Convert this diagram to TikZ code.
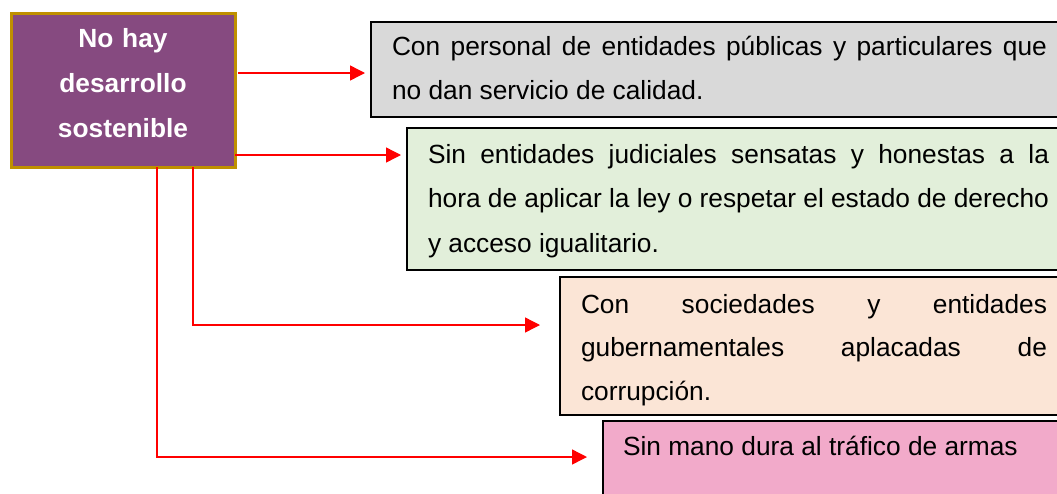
\documentclass[tikz,border=0pt]{standalone}
\usepackage{fontspec}
\setmainfont{Liberation Sans}
\usetikzlibrary{arrows.meta}
\definecolor{purp}{RGB}{134,74,128}
\definecolor{goldb}{RGB}{191,144,0}
\definecolor{grayf}{RGB}{217,217,217}
\definecolor{greenf}{RGB}{226,239,218}
\definecolor{peachf}{RGB}{251,229,214}
\definecolor{pinkf}{RGB}{242,170,202}
\definecolor{redl}{RGB}{255,0,0}
\newcommand{\nohyph}{\hyphenpenalty=10000\relax\exhyphenpenalty=10000\relax}
\begin{document}
\begin{tikzpicture}[x=1pt,y=-1pt,
  box/.style={draw=black,line width=1.3pt,rectangle,inner sep=0pt,outer sep=0pt,anchor=north west},
  txt/.style={inner sep=0pt,outer sep=0pt,anchor=base west,align=justify,
    font=\fontsize{26.3}{44.5}\selectfont\nohyph},
  conn/.style={draw=redl,line width=1.4pt,-{Triangle[length=15pt,width=15pt]}}]
\useasboundingbox[fill=white] (0,0) rectangle (1057,493);
% source box
\node[draw=goldb,line width=3pt,fill=purp,rectangle,inner sep=0pt,outer sep=0pt,anchor=north west,
  minimum width=224pt,minimum height=154pt] (src) at (11,13) {};
\node[inner sep=0pt,outer sep=0pt,anchor=base,align=center,text width=224pt,text=white,
  font=\fontsize{26.3}{45}\selectfont\bfseries] (srct) at (123,47) {No hay\\desarrollo\\sostenible};
% target boxes
\node[box,fill=grayf,minimum width=720pt,minimum height=95pt] (b1) at (371,22) {};
\node[txt,text width=655pt] (t1) at (392,55)
  {Con personal de entidades públicas y particulares que\linebreak no dan servicio de calidad.};
\node[box,fill=greenf,minimum width=690pt,minimum height=142pt] (b2) at (407,128) {};
\node[txt,text width=621pt] (t2) at (428,163)
  {Sin entidades judiciales sensatas y honestas a la\linebreak hora de aplicar la ley o respetar el estado de derecho\linebreak y acceso igualitario.};
\node[box,fill=peachf,minimum width=540pt,minimum height=138pt] (b3) at (560,277) {};
\node[txt,text width=466pt,font=\fontsize{26.3}{43.5}\selectfont\nohyph] (t3) at (581,313)
  {Con sociedades y entidades\linebreak gubernamentales aplacadas de\linebreak corrupción.};
\node[box,fill=pinkf,minimum width=500pt,minimum height=100pt] (b4) at (603,421) {};
\node[txt,align=left] (t4) at (623,455) {Sin mano dura al tráfico de armas};
% connector rows/columns
\coordinate (r1) at (0,73);
\coordinate (r2) at (0,155);
\coordinate (r3) at (0,325);
\coordinate (r4) at (0,457);
\coordinate (c3) at (193,0);
\coordinate (c4) at (157,0);
\draw[conn,shorten >=6pt] ([xshift=3pt]src.east |- r1) -- (b1.west |- r1);
\draw[conn,shorten >=6pt] (src.east |- r2) -- (b2.west |- r2);
\draw[conn,shorten >=20pt] (src.south -| c3) |- (b3.west |- r3);
\draw[conn,shorten >=16pt] (src.south -| c4) |- (b4.west |- r4);
\end{tikzpicture}
\end{document}
